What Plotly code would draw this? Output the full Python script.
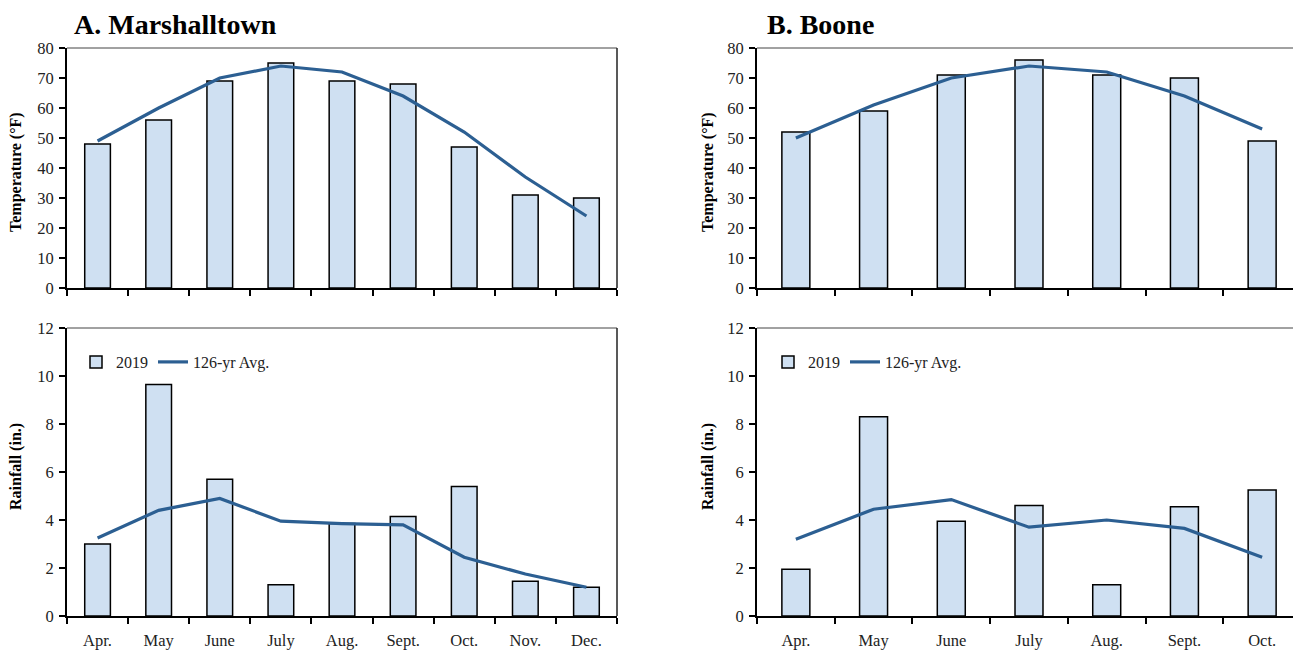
import plotly.graph_objects as go

# ---- data ----
months_a = ["Apr.", "May", "June", "July", "Aug.", "Sept.", "Oct.", "Nov.", "Dec."]
temp_2019_a = [48, 56, 69, 75, 69, 68, 47, 31, 30]
temp_avg_a = [49, 60, 70, 74, 72, 64, 52, 37, 24]
rain_2019_a = [3.0, 9.65, 5.7, 1.3, 3.85, 4.15, 5.4, 1.45, 1.2]
rain_avg_a = [3.25, 4.4, 4.9, 3.95, 3.85, 3.8, 2.45, 1.75, 1.2]

months_b = ["Apr.", "May", "June", "July", "Aug.", "Sept.", "Oct."]
temp_2019_b = [52, 59, 71, 76, 71, 70, 49]
temp_avg_b = [50, 61, 70, 74, 72, 64, 53]
rain_2019_b = [1.95, 8.3, 3.95, 4.6, 1.3, 4.55, 5.25]
rain_avg_b = [3.2, 4.45, 4.85, 3.7, 4.0, 3.65, 2.45]

temp_ticks = [0, 10, 20, 30, 40, 50, 60, 70, 80]
rain_ticks = [0, 2, 4, 6, 8, 10, 12]

# the page body has an 8px margin, so the figure is offset by 8px
OFF = 8
W, H = 1301 - OFF, 651 - OFF
BAR_FILL = "#CFE0F2"
LINE_COL = "#2C5F92"
FONT = "Liberation Serif"

def px_x(v):
    return (v - OFF) / W

def px_y(v):
    return 1 - (v - OFF) / H

fig = go.Figure()

panels = [
    ("x", "y", months_a, temp_2019_a, temp_avg_a, "legend", False, 0.42),
    ("x2", "y2", months_a, rain_2019_a, rain_avg_a, "legend", True, 0.42),
    ("x3", "y3", months_b, temp_2019_b, temp_avg_b, "legend2", False, 0.36),
    ("x4", "y4", months_b, rain_2019_b, rain_avg_b, "legend2", True, 0.36),
]

for xa, ya, m, bars, line, leg, sl, bw in panels:
    fig.add_trace(go.Bar(
        x=m, y=bars, xaxis=xa, yaxis=ya, name="2019",
        marker=dict(color=BAR_FILL, line=dict(color="black", width=1.5)),
        width=bw, showlegend=sl, legend=leg,
    ))
    fig.add_trace(go.Scatter(
        x=m, y=line, xaxis=xa, yaxis=ya, name="126-yr Avg.", mode="lines",
        line=dict(color=LINE_COL, width=3.2), showlegend=sl, legend=leg,
    ))

xdom_a = [px_x(67), px_x(617)]
xdom_b = [px_x(757), 1.0]
ydom_top = [px_y(288), px_y(48)]
ydom_bot = [px_y(616), px_y(328)]

tickfont = dict(family=FONT, size=16.5, color="#222")

def xaxis(dom, anchor, show_labels):
    return dict(
        domain=dom, anchor=anchor, type="category",
        showline=True, linecolor="black", linewidth=2,
        ticks="outside", tickson="boundaries", ticklen=6, tickwidth=1.5, tickcolor="black",
        showticklabels=show_labels, tickfont=tickfont, showgrid=False, zeroline=False,
        ticklabelstandoff=8, automargin=False,
    )

def yaxis(dom, anchor, rng, tv):
    return dict(
        domain=dom, anchor=anchor, range=rng, tickvals=tv,
        showline=True, linecolor="black", linewidth=2,
        ticks="outside", ticklen=6, tickwidth=1.5, tickcolor="black",
        tickfont=tickfont, showgrid=False, zeroline=False, automargin=False,
        ticklabelstandoff=2,
    )

legend_common = dict(
    xanchor="left", yanchor="middle",
    orientation="h", bgcolor="rgba(0,0,0,0)",
    font=dict(family=FONT, size=16, color="#222"),
    itemwidth=30, tracegroupgap=0,
)

fig.update_layout(
    width=W, height=H,
    margin=dict(l=0, r=0, t=0, b=0, autoexpand=False),
    plot_bgcolor="white", paper_bgcolor="white",
    xaxis=xaxis(xdom_a, "y", False),
    yaxis=yaxis(ydom_top, "x", [0, 80], temp_ticks),
    xaxis2=xaxis(xdom_a, "y2", True),
    yaxis2=yaxis(ydom_bot, "x2", [0, 12], rain_ticks),
    xaxis3=xaxis(xdom_b, "y3", False),
    yaxis3=yaxis(ydom_top, "x3", [0, 80], temp_ticks),
    xaxis4=xaxis(xdom_b, "y4", True),
    yaxis4=yaxis(ydom_bot, "x4", [0, 12], rain_ticks),
    legend=dict(x=px_x(76), y=px_y(362), **legend_common),
    legend2=dict(x=px_x(768), y=px_y(362), **legend_common),
)

# thin top/right box borders
for xa in ["x", "x2", "x3", "x4"]:
    xr = xa + " domain"
    yr = ("y" + xa[1:]) + " domain"
    fig.add_shape(type="line", xref=xr, yref=yr, x0=0, x1=1, y0=1, y1=1,
                  line=dict(color="#444", width=1))
    fig.add_shape(type="line", xref=xr, yref=yr, x0=1, x1=1, y0=0, y1=1,
                  line=dict(color="#222", width=1.5))

annots = [
    dict(text="<b>A. Marshalltown</b>", x=px_x(72), y=px_y(24), xanchor="left", yanchor="middle",
         font=dict(family=FONT, size=28, color="black")),
    dict(text="<b>B. Boone</b>", x=px_x(765), y=px_y(24), xanchor="left", yanchor="middle",
         font=dict(family=FONT, size=28, color="black")),
    dict(text="<b>Temperature (°F)</b>", x=px_x(16), y=px_y(172), textangle=-90,
         xanchor="center", yanchor="middle", font=dict(family=FONT, size=16, color="black")),
    dict(text="<b>Rainfall (in.)</b>", x=px_x(16), y=px_y(467), textangle=-90,
         xanchor="center", yanchor="middle", font=dict(family=FONT, size=16, color="black")),
    dict(text="<b>Temperature (°F)</b>", x=px_x(708), y=px_y(172), textangle=-90,
         xanchor="center", yanchor="middle", font=dict(family=FONT, size=16, color="black")),
    dict(text="<b>Rainfall (in.)</b>", x=px_x(708), y=px_y(467), textangle=-90,
         xanchor="center", yanchor="middle", font=dict(family=FONT, size=16, color="black")),
]
for a in annots:
    fig.add_annotation(xref="paper", yref="paper", showarrow=False, **a)

fig.write_html("out.html")
